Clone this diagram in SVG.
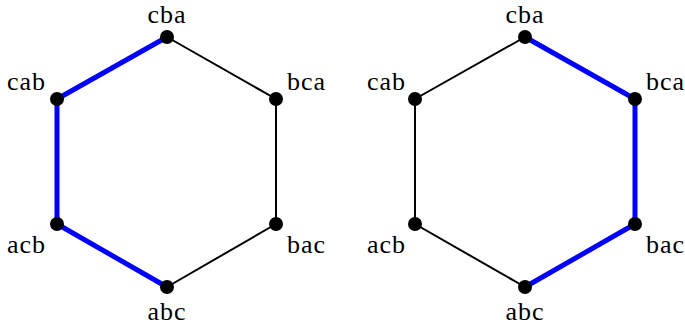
<svg xmlns="http://www.w3.org/2000/svg" width="685" height="329" viewBox="0 0 685 329">
<style>
.e{stroke:#000;stroke-width:2;fill:none}
.b{stroke:#0000ff;stroke-width:5;fill:none;stroke-linejoin:miter}
.d{fill:#000}
text{font-family:"Liberation Serif","DejaVu Serif",serif;font-size:26px;letter-spacing:1px;fill:#000}
</style>
<g id="connectors">
<path class="e" d="M167,37 L276,99 L276,224 L167,287"/>
<path class="b" d="M167,37 L57,99 L57,224 L167,287"/>
<path class="e" d="M525,37 L415,99 L415,224 L525,287"/>
<path class="b" d="M525,37 L635,99 L635,224 L525,287"/>
</g>
<g id="L-cba"><circle class="d" cx="167" cy="37" r="7"/><text x="167" y="23" text-anchor="middle">cba</text></g>
<g id="L-cab"><circle class="d" cx="57" cy="99" r="7"/><text x="46" y="90" text-anchor="end">cab</text></g>
<g id="L-acb"><circle class="d" cx="57" cy="224" r="7"/><text x="46" y="253" text-anchor="end">acb</text></g>
<g id="L-abc"><circle class="d" cx="167" cy="287" r="7"/><text x="167" y="320" text-anchor="middle">abc</text></g>
<g id="L-bca"><circle class="d" cx="276" cy="99" r="7"/><text x="287" y="90">bca</text></g>
<g id="L-bac"><circle class="d" cx="276" cy="224" r="7"/><text x="287" y="253">bac</text></g>
<g id="R-cba"><circle class="d" cx="525" cy="37" r="7"/><text x="525" y="23" text-anchor="middle">cba</text></g>
<g id="R-cab"><circle class="d" cx="415" cy="99" r="7"/><text x="406" y="90" text-anchor="end">cab</text></g>
<g id="R-acb"><circle class="d" cx="415" cy="224" r="7"/><text x="406" y="253" text-anchor="end">acb</text></g>
<g id="R-abc"><circle class="d" cx="525" cy="287" r="7"/><text x="525" y="320" text-anchor="middle">abc</text></g>
<g id="R-bca"><circle class="d" cx="635" cy="99" r="7"/><text x="646" y="90">bca</text></g>
<g id="R-bac"><circle class="d" cx="635" cy="224" r="7"/><text x="646" y="253">bac</text></g>
</svg>
